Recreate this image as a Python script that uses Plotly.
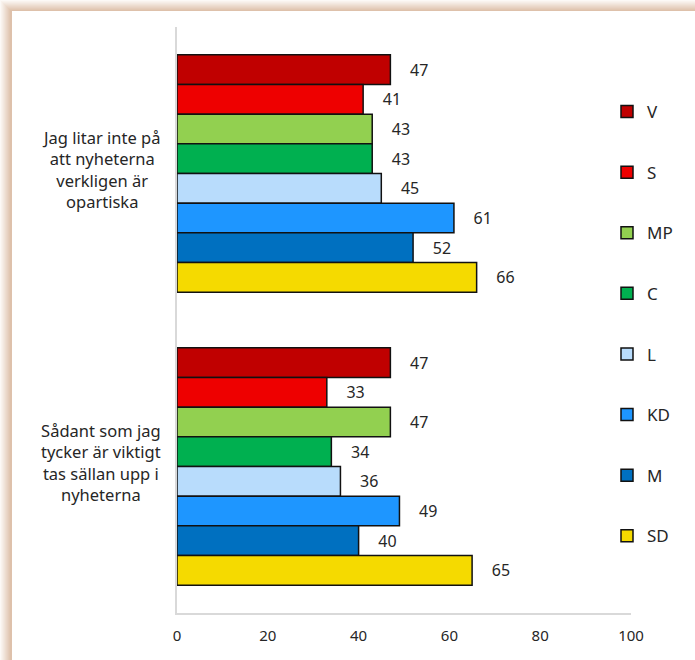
import plotly.graph_objects as go

categories = ["Jag litar inte på<br>att nyheterna<br>verkligen är<br>opartiska",
              "Sådant som jag<br>tycker är viktigt<br>tas sällan upp i<br>nyheterna"]
parties = ["V", "S", "MP", "C", "L", "KD", "M", "SD"]
values_q1 = [47, 41, 43, 43, 45, 61, 52, 66]
values_q2 = [47, 33, 47, 34, 36, 49, 40, 65]
colors = ["#C00000", "#EE0000", "#92D050", "#00B050", "#B8DCFC", "#1E96FF", "#0070C0", "#F5DA00"]
x_ticks = [0, 20, 40, 60, 80, 100]

FONT = "Noto Sans"
TXT = "#262626"

fig = go.Figure()
for i, p in enumerate(parties):
    fig.add_trace(go.Bar(
        y=[0, 1], x=[values_q1[i], values_q2[i]], name=p, orientation="h",
        marker=dict(color=colors[i], line=dict(color="#111111", width=1.5)),
        text=[values_q1[i], values_q2[i]],
        texttemplate="\u00a0\u00a0\u00a0\u00a0%{x}", textposition="outside",
        textfont=dict(family=FONT, size=16, color=TXT),
        cliponaxis=False, constraintext="none", legendgroup=p,
    ))

W, H = 695, 660
L, R, T, B = 177, 64, 27, 47
pw, ph = W - L - R, H - T - B

def px(x):
    return (x - L) / pw

def py(y):
    return (H - B - y) / ph

shapes = []
# soft shadow frame along top and left edges
n = 11
c0 = (252, 249, 246)
c1 = (222, 193, 171)
for k in range(n):
    t = k / (n - 1)
    col = "rgb(%d,%d,%d)" % tuple(round(a + (b - a) * t) for a, b in zip(c0, c1))
    shapes.append(dict(type="rect", xref="paper", yref="paper", layer="below",
                       x0=px(k), x1=px(W + 5), y0=py(H + 5), y1=py(k),
                       fillcolor=col, line=dict(width=0)))
shapes.append(dict(type="rect", xref="paper", yref="paper", layer="below",
                   x0=px(12), x1=px(W + 5), y0=py(H + 5), y1=py(11),
                   fillcolor="white", line=dict(width=0)))

annotations = []
for j, c in enumerate(categories):
    annotations.append(dict(x=px(101), xref="paper", y=j, yref="y", text=c,
                            showarrow=False, xanchor="center", yanchor="middle",
                            align="center", yshift=4,
                            font=dict(family=FONT, size=16.5, color=TXT)))

fig.update_layout(
    width=W, height=H,
    margin=dict(l=L, r=R, t=T, b=B),
    paper_bgcolor="white", plot_bgcolor="rgba(0,0,0,0)",
    barmode="group", bargap=0.19, bargroupgap=0,
    font=dict(family=FONT, size=15, color=TXT),
    shapes=shapes, annotations=annotations,
    legend=dict(x=px(607), xanchor="left", y=py(94), yanchor="top",
                traceorder="grouped", tracegroupgap=35.5,
                font=dict(family=FONT, size=17, color=TXT),
                itemwidth=30, bgcolor="rgba(0,0,0,0)"),
    xaxis=dict(range=[0, 100], tickvals=x_ticks, showgrid=False, zeroline=False,
               showline=True, linecolor="#D9D9D9", linewidth=1.5,
               ticks="", ticklabelstandoff=8,
               tickfont=dict(family=FONT, size=15, color=TXT)),
    yaxis=dict(range=[1.5, -0.5], tickvals=[0, 1], showticklabels=False,
               showgrid=False, zeroline=False, showline=True,
               linecolor="#D9D9D9", linewidth=1.5, ticks=""),
)

fig.write_html("out.html", config={"displayModeBar": False},
               post_script="document.body.style.margin='0';")
